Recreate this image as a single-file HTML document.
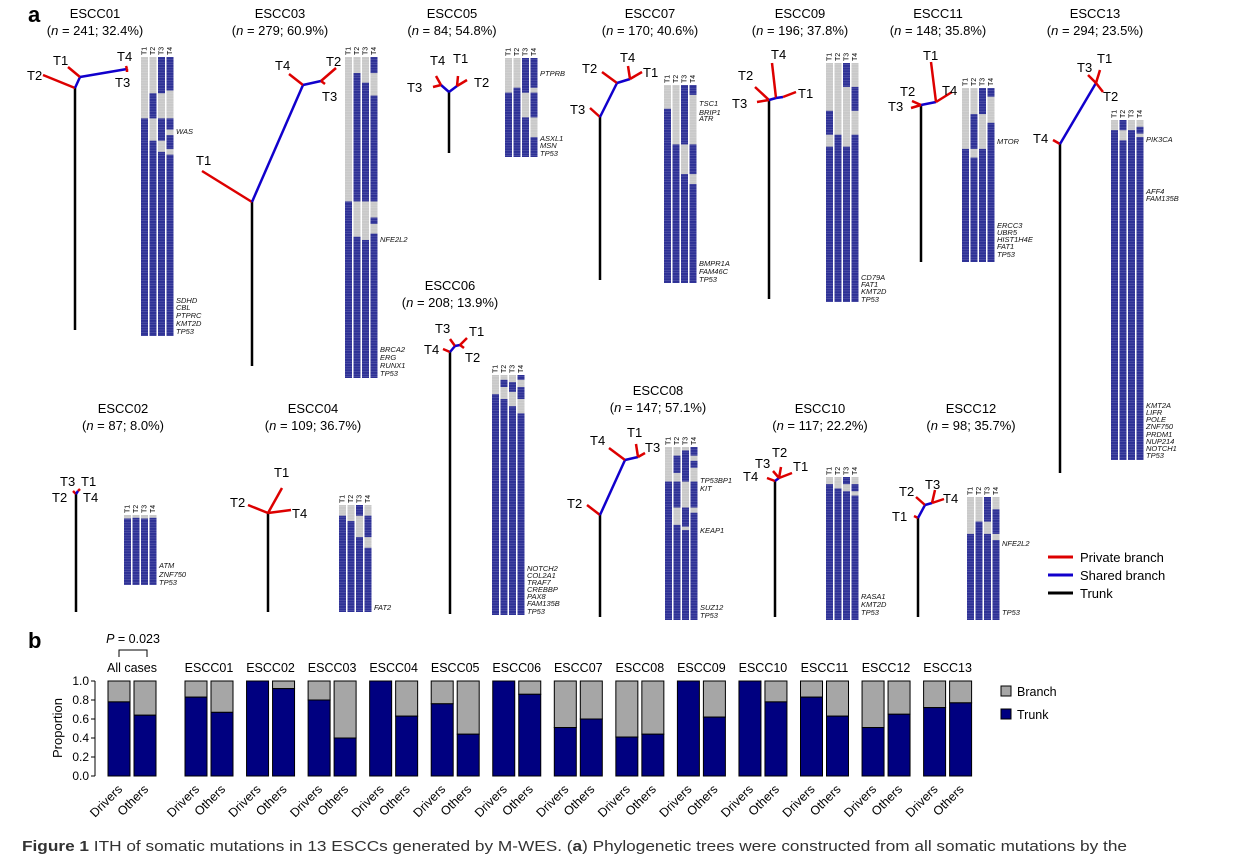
<!DOCTYPE html>
<html><head><meta charset="utf-8"><style>
body{margin:0;background:#fff;}
svg{display:block;font-family:"Liberation Sans",Arial,sans-serif;}
.gl{font-size:7.5px;font-style:italic;fill:#111;}
.tl{font-size:13px;fill:#000;}
.tt{font-size:13px;fill:#000;text-anchor:middle;}
</style></head><body>
<svg id="fig" width="1243" height="860" viewBox="0 0 1243 860">
<defs><pattern id="rows" width="7" height="2.6" patternUnits="userSpaceOnUse"><rect x="0" y="2.1" width="7" height="0.5" fill="#fff" fill-opacity="0.25"/></pattern></defs>
<text x="28" y="22" font-size="22" font-weight="bold">a</text>
<text x="28" y="648" font-size="22" font-weight="bold">b</text>
<g id="trees"></g>
<g id="legA">
<line x1="1048" y1="557" x2="1073" y2="557" stroke="#d00" stroke-width="3"/><text x="1080" y="562" class="tl">Private branch</text>
<line x1="1048" y1="575" x2="1073" y2="575" stroke="#10c" stroke-width="3"/><text x="1080" y="580" class="tl">Shared branch</text>
<line x1="1048" y1="593" x2="1073" y2="593" stroke="#000" stroke-width="3"/><text x="1080" y="598" class="tl">Trunk</text>
</g>
<g id="barChart"></g>
<text x="22" y="851" font-size="15" fill="#333" textLength="1105" lengthAdjust="spacingAndGlyphs"><tspan font-weight="bold">Figure 1</tspan>  ITH of somatic mutations in 13 ESCCs generated by M-WES. (<tspan font-weight="bold">a</tspan>) Phylogenetic trees were constructed from all somatic mutations by the</text>
</svg>
<script>
const NS="http://www.w3.org/2000/svg";
function mk(tag,attrs,parent){const e=document.createElementNS(NS,tag);for(const k in attrs)e.setAttribute(k,attrs[k]);parent.appendChild(e);return e;}
const trees=document.getElementById('trees');
const samples=[
{id:"ESCC01",n:"241; 32.4%",tx:95,ty:18,hx:141,hy:57,hb:336,gray:[[[0,.22]],[[0,.13],[.22,.3]],[[.13,.22],[.3,.34]],[[.12,.22],[.26,.28],[.33,.35]]],
 genes:[["WAS",134],["SDHD",303],["CBL",310],["PTPRC",318],["KMT2D",326],["TP53",334]],
 seg:[["k",75,330,75,88],["r",75,88,43,75],["b",75,88,80,77],["r",80,77,68,67],["b",80,77,127,69],["r",127,69,126,66],["r",127,69,127,72]],
 lab:[["T2",27,80],["T1",53,65],["T4",117,61],["T3",115,87]]},
{id:"ESCC03",n:"279; 60.9%",tx:280,ty:18,hx:345,hy:57,hb:378,gray:[[[0,.45]],[[0,.05],[.45,.56]],[[0,.08],[.45,.57]],[[.05,.12],[.45,.5],[.52,.55]]],
 genes:[["NFE2L2",242],["BRCA2",352],["ERG",360],["RUNX1",368],["TP53",376]],
 seg:[["k",252,366,252,202],["r",252,202,202,171],["b",252,202,303,85],["r",303,85,289,74],["b",303,85,321,81],["r",321,81,336,68],["r",321,81,325,84]],
 lab:[["T1",196,165],["T4",275,70],["T2",326,66],["T3",322,101]]},
{id:"ESCC05",n:"84; 54.8%",tx:452,ty:18,hx:505,hy:58,hb:157,gray:[[[0,.35]],[[0,.3]],[[.35,.6]],[[.3,.35],[.6,.8]]],
 genes:[["PTPRB",76],["ASXL1",141],["MSN",148],["TP53",156]],
 seg:[["k",449,153,449,92],["b",449,92,441,85],["b",449,92,457,86],["r",441,85,436,76],["r",441,85,433,87],["r",457,86,458,76],["r",457,86,467,80]],
 lab:[["T4",430,65],["T1",453,63],["T3",407,92],["T2",474,87]]},
{id:"ESCC07",n:"170; 40.6%",tx:650,ty:18,hx:664,hy:85,hb:283,gray:[[[0,.12]],[[0,.3]],[[.3,.45]],[[.05,.3],[.45,.5]]],
 genes:[["TSC1",106],["BRIP1",115],["ATR",121],["BMPR1A",266],["FAM46C",274],["TP53",282]],
 seg:[["k",600,280,600,117],["r",600,117,590,108],["b",600,117,617,83],["r",617,83,602,72],["b",617,83,630,79],["r",630,79,628,66],["r",630,79,642,72]],
 lab:[["T2",582,73],["T4",620,62],["T1",643,77],["T3",570,114]]},
{id:"ESCC09",n:"196; 37.8%",tx:800,ty:18,hx:826,hy:63,hb:302,gray:[[[0,.2],[.3,.35]],[[0,.3]],[[.1,.35]],[[0,.1],[.2,.3]]],
 genes:[["CD79A",280],["FAT1",287],["KMT2D",294],["TP53",302]],
 seg:[["k",769,299,769,100],["r",769,100,755,87],["r",769,100,757,102],["b",769,100,776,98],["r",776,98,772,63],["b",776,98,783,97],["r",783,97,796,92]],
 lab:[["T4",771,59],["T2",738,80],["T3",732,108],["T1",798,98]]},
{id:"ESCC11",n:"148; 35.8%",tx:938,ty:18,hx:962,hy:88,hb:262,gray:[[[0,.35]],[[0,.15],[.35,.4]],[[.15,.35]],[[.05,.2]]],
 genes:[["MTOR",144],["ERCC3",228],["UBR5",235],["HIST1H4E",242],["FAT1",249],["TP53",257]],
 seg:[["k",921,262,921,105],["b",921,105,936,102],["r",921,105,912,101],["r",921,105,911,108],["r",936,102,931,62],["r",936,102,952,92]],
 lab:[["T1",923,60],["T2",900,96],["T3",888,111],["T4",942,95]]},
{id:"ESCC13",n:"294; 23.5%",tx:1095,ty:18,hx:1111,hy:120,hb:460,gray:[[[0,.03]],[[.03,.06]],[[0,.03]],[[0,.02],[.04,.05]]],
 genes:[["PIK3CA",142],["AFF4",194],["FAM135B",201],["KMT2A",408],["LIFR",415],["POLE",422],["ZNF750",429],["PRDM1",437],["NUP214",444],["NOTCH1",451],["TP53",458]],
 seg:[["k",1060,473,1060,144],["r",1060,144,1053,140],["b",1060,144,1096,83],["r",1096,83,1088,75],["r",1096,83,1100,70],["r",1096,83,1103,92]],
 lab:[["T4",1033,143],["T3",1077,72],["T1",1097,63],["T2",1103,101]]},
{id:"ESCC06",n:"208; 13.9%",tx:450,ty:290,hx:492,hy:375,hb:615,gray:[[[0,.08]],[[0,.02],[.05,.1]],[[0,.03],[.07,.13]],[[.02,.05],[.1,.16]]],
 genes:[["NOTCH2",571],["COL2A1",578],["TRAF7",585],["CREBBP",592],["PAX8",599],["FAM135B",606],["TP53",614]],
 seg:[["k",450,614,450,352],["r",450,352,443,349],["b",450,352,455,346],["r",455,346,450,339],["b",455,346,460,345],["r",460,345,467,338],["r",460,345,464,348]],
 lab:[["T3",435,333],["T1",469,336],["T4",424,354],["T2",465,362]]},
{id:"ESCC02",n:"87; 8.0%",tx:123,ty:413,hx:124,hy:515,hb:585,gray:[[[0,.05]],[[0,.04]],[[0,.05]],[[0,.04]]],
 genes:[["ATM",568],["ZNF750",577],["TP53",585]],
 seg:[["k",76,612,76,494],["r",76,494,73,491],["b",76,494,78,491],["r",78,491,80,489]],
 lab:[["T3",60,486],["T1",81,486],["T2",52,502],["T4",83,502]]},
{id:"ESCC04",n:"109; 36.7%",tx:313,ty:413,hx:339,hy:505,hb:612,gray:[[[0,.1]],[[0,.15]],[[.1,.3]],[[0,.1],[.3,.4]]],
 genes:[["FAT2",610]],
 seg:[["k",268,612,268,513],["r",268,513,248,505],["r",268,513,282,488],["r",268,513,291,510]],
 lab:[["T2",230,507],["T1",274,477],["T4",292,518]]},
{id:"ESCC08",n:"147; 57.1%",tx:658,ty:395,hx:665,hy:447,hb:620,gray:[[[0,.2]],[[0,.05],[.15,.2],[.35,.45]],[[0,.02],[.2,.35],[.46,.48]],[[.05,.08],[.12,.2],[.35,.38]]],
 genes:[["TP53BP1",483],["KIT",491],["KEAP1",533],["SUZ12",610],["TP53",618]],
 seg:[["k",600,617,600,515],["r",600,515,587,505],["b",600,515,625,460],["r",625,460,609,448],["b",625,460,638,457],["r",638,457,636,444],["r",638,457,645,453]],
 lab:[["T4",590,445],["T1",627,437],["T3",645,452],["T2",567,508]]},
{id:"ESCC10",n:"117; 22.2%",tx:820,ty:413,hx:826,hy:477,hb:620,gray:[[[0,.05]],[[0,.08]],[[.05,.1]],[[0,.05],[.1,.13]]],
 genes:[["RASA1",599],["KMT2D",607],["TP53",615]],
 seg:[["k",775,617,775,481],["r",775,481,767,478],["b",775,481,779,478],["r",779,478,773,471],["r",779,478,781,467],["r",779,478,792,473]],
 lab:[["T3",755,468],["T2",772,457],["T1",793,471],["T4",743,481]]},
{id:"ESCC12",n:"98; 35.7%",tx:971,ty:413,hx:967,hy:497,hb:620,gray:[[[0,.3]],[[0,.2]],[[.2,.3]],[[0,.1],[.3,.35]]],
 genes:[["NFE2L2",546],["TP53",615]],
 seg:[["k",918,617,918,518],["r",918,518,914,516],["b",918,518,925,505],["r",925,505,916,497],["b",925,505,932,503],["r",932,503,935,490],["r",932,503,944,499]],
 lab:[["T2",899,496],["T3",925,489],["T4",943,503],["T1",892,521]]}
];
const CW=7,CG=1.5;
samples.forEach(s=>{
  const g=mk('g',{},trees);
  
  
  const t=mk('text',{x:s.tx,y:s.ty,class:'tt'},g);t.textContent=s.id;
  const t2=mk('text',{x:s.tx,y:s.ty+17,class:'tt'},g);
  t2.innerHTML='(<tspan font-style="italic">n</tspan> = '+s.n+')';
  s.seg.forEach(q=>{mk('line',{x1:q[1],y1:q[2],x2:q[3],y2:q[4],stroke:q[0]=='k'?'#000':q[0]=='r'?'#d00':'#10c','stroke-width':2.5,'stroke-linecap':'butt'},g);});
  s.lab.forEach(l=>{const e=mk('text',{x:l[1],y:l[2],class:'tl'},g);e.textContent=l[0];});
  const h=s.hb-s.hy;
  const hm=mk('g',{},g);
  
  
  s.gray.forEach((iv,c)=>{
    const x=s.hx+c*(CW+CG);
    mk('rect',{x:x,y:s.hy,width:CW,height:h,fill:'#2e3196'},hm);
    iv.forEach(p=>mk('rect',{x:x,y:s.hy+p[0]*h,width:CW,height:(p[1]-p[0])*h,fill:'#c9c9c9'},hm));
    mk('rect',{x:x,y:s.hy,width:CW,height:h,fill:'url(#rows)'},hm);
    const ct=mk('text',{x:0,y:0,'font-size':7,transform:`translate(${x+5.5},${s.hy-2}) rotate(-90)`},hm);ct.textContent='T'+(c+1);
  });
  s.genes.forEach(gn=>{const e=mk('text',{x:s.hx+4*(CW+CG)+1,y:gn[1],class:'gl'},g);e.textContent=gn[0];});
});

// ---- panel b data ----
const groups=["All cases","ESCC01","ESCC02","ESCC03","ESCC04","ESCC05","ESCC06","ESCC07","ESCC08","ESCC09","ESCC10","ESCC11","ESCC12","ESCC13"];
const driversTrunk=[0.78,0.83,1.0,0.80,1.0,0.76,1.0,0.51,0.41,1.0,1.0,0.83,0.51,0.72];
const othersTrunk=[0.64,0.67,0.92,0.40,0.63,0.44,0.86,0.60,0.44,0.62,0.78,0.63,0.65,0.77];
const yTicks=["0.0","0.2","0.4","0.6","0.8","1.0"];
const bc=document.getElementById('barChart');
const Y0=776,Y1=681;
const yS=v=>Y0-v*(Y0-Y1);
const gx=i=>i==0?108:185+(i-1)*61.55;
const BW=22;
mk('line',{x1:95,y1:yS(0),x2:95,y2:yS(1),stroke:'#000'},bc);
yTicks.forEach(tk=>{const v=parseFloat(tk);mk('line',{x1:91,y1:yS(v),x2:95,y2:yS(v),stroke:'#000'},bc);
  const e=mk('text',{x:89,y:yS(v)+4,'font-size':12,'text-anchor':'end'},bc);e.textContent=tk;});
const yt=mk('text',{x:0,y:0,'font-size':13,'text-anchor':'middle',transform:'translate(62,728) rotate(-90)'},bc);yt.textContent='Proportion';
function bar(x,v,name){
  const r1=mk('rect',{x:x,y:yS(1),width:BW,height:yS(v)-yS(1),fill:'#a6a6a6',stroke:'#000','stroke-width':1},bc);
  
  
  const r2=mk('rect',{x:x,y:yS(v),width:BW,height:yS(0)-yS(v),fill:'#000080',stroke:'#000','stroke-width':1},bc);
  
  
}
groups.forEach((gname,i)=>{
  const x=gx(i);
  bar(x,driversTrunk[i],'bar-'+i+'-drivers');
  bar(x+BW+4,othersTrunk[i],'bar-'+i+'-others');
  const t=mk('text',{x:x+BW+2,y:672,'font-size':12.5,'text-anchor':'middle'},bc);t.textContent=gname;
  [["Drivers",x+BW/2+4],["Others",x+BW*1.5+8]].forEach(l=>{
    const e=mk('text',{x:0,y:0,'font-size':12.5,'text-anchor':'end',transform:`translate(${l[1]},${790}) rotate(-45)`},bc);e.textContent=l[0];});
});
mk('path',{d:'M119 657 V650 H147 V657',fill:'none',stroke:'#000'},bc);
const pv=mk('text',{x:133,y:643,'font-size':12.5,'text-anchor':'middle'},bc);pv.innerHTML='<tspan font-style="italic">P</tspan> = 0.023';
mk('rect',{x:1001,y:686,width:10,height:10,fill:'#a6a6a6',stroke:'#000'},bc);
const lb=mk('text',{x:1017,y:696,'font-size':12.5},bc);lb.textContent='Branch';
mk('rect',{x:1001,y:709,width:10,height:10,fill:'#000080',stroke:'#000'},bc);
const lt=mk('text',{x:1017,y:719,'font-size':12.5},bc);lt.textContent='Trunk';
</script>
</body></html>
